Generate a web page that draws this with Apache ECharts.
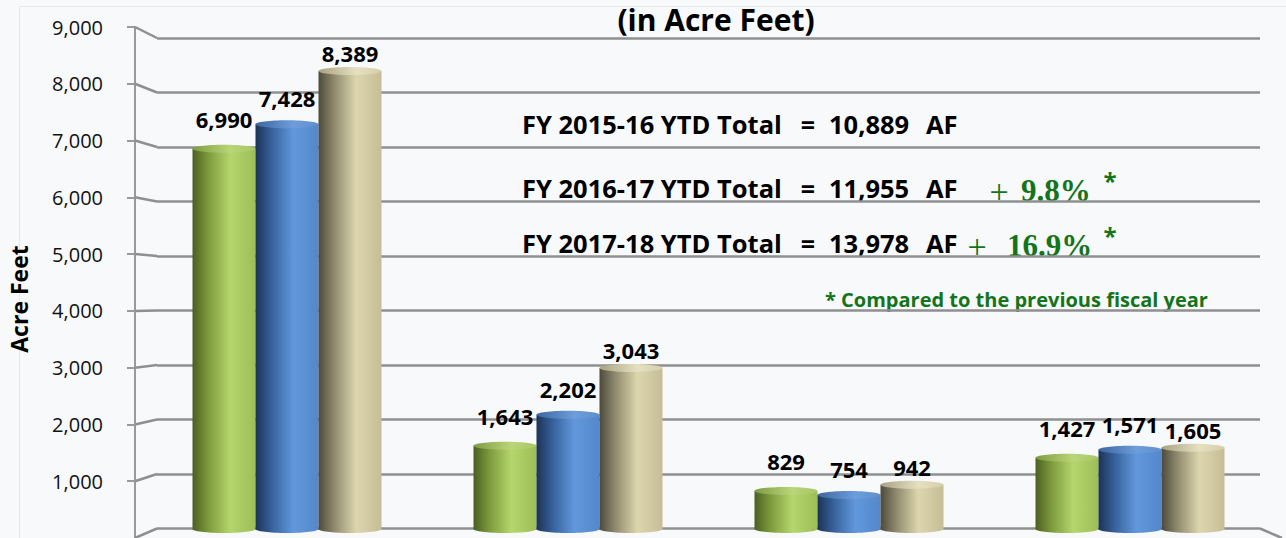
<!DOCTYPE html>
<html>
<head>
<meta charset="utf-8">
<script src="https://cdn.jsdelivr.net/npm/echarts@6/dist/echarts.min.js"></script>
<style>
  html, body { margin: 0; padding: 0; background: #f8f9fb; }
  #chart { width: 1286px; height: 538px; }
</style>
</head>
<body>
<div id="chart"></div>
<script>
// ---------- data ----------
const categories = ['Category 1', 'Category 2', 'Category 3', 'Category 4'];
const seriesNames = ['FY 2015-16', 'FY 2016-17', 'FY 2017-18'];
const fy1516 = [6990, 1643, 829, 1427];
const fy1617 = [7428, 2202, 754, 1571];
const fy1718 = [8389, 3043, 942, 1605];
const yTicks = [0, 1000, 2000, 3000, 4000, 5000, 6000, 7000, 8000, 9000];
const totalLabels = ['FY 2015-16 YTD Total', 'FY 2016-17 YTD Total', 'FY 2017-18 YTD Total'];
const totalValues = ['10,889', '11,955', '13,978'];
const pctChanges = [null, '9.8%', '16.9%'];
const titleText = '(in Acre Feet)';
const yAxisName = 'Acre Feet';
const footnote = '* Compared to the previous fiscal year';

// ---------- styles ----------
const FONT = "'Open Sans', 'Liberation Sans', sans-serif";
const SERIF = "'Liberation Serif', 'DejaVu Serif', serif";
const GREEN_TXT = '#13741a';
const BAR_RATIO = 63 / 281;
const RY = 4;
const palettes = [
  { body: [[0, '#4b5f22'], [0.25, '#7d9a3c'], [0.6, '#b5d66c'], [1, '#9dbd57']],
    top:  [[0, '#7f9b42'], [0.6, '#b9d678'], [1, '#a9c765']] },
  { body: [[0, '#1c3356'], [0.25, '#36609a'], [0.6, '#6198dc'], [1, '#5487cb']],
    top:  [[0, '#3c66a0'], [0.6, '#6d9ddb'], [1, '#5f8fcd']] },
  { body: [[0, '#4d4a3b'], [0.25, '#8f8a6e'], [0.6, '#ddd6ad'], [1, '#c5bd97']],
    top:  [[0, '#a8a283'], [0.6, '#e6e0c2'], [1, '#d6cfab']] }
];
const labelOffsets = [26, 22, 14];

const fmt = v => v.toLocaleString('en-US');
const chart = echarts.init(document.getElementById('chart'), null, { renderer: 'svg' });

function cylinder(sIdx) {
  return function (params, api) {
    const ci = api.value(0), v = api.value(1);
    const top = api.coord([ci, v]);
    const base = api.coord([ci, 0]);
    const band = api.size([1, 0])[0];
    const w = band * BAR_RATIO;
    const cx = top[0] + (sIdx - 1) * w;
    const x0 = cx - w / 2;
    const pal = palettes[sIdx];
    const bodyGrad = new echarts.graphic.LinearGradient(0, 0, 1, 0, pal.body.map(s => ({ offset: s[0], color: s[1] })));
    const topGrad = new echarts.graphic.LinearGradient(0, 0, 1, 0, pal.top.map(s => ({ offset: s[0], color: s[1] })));
    return {
      type: 'group',
      children: [
        { type: 'ellipse', shape: { cx: cx, cy: base[1] - RY, rx: w / 2, ry: RY }, style: { fill: bodyGrad } },
        { type: 'rect', shape: { x: x0, y: top[1] + RY, width: w, height: (base[1] - RY) - (top[1] + RY) }, style: { fill: bodyGrad } },
        { type: 'ellipse', shape: { cx: cx, cy: top[1] + RY, rx: w / 2, ry: RY }, style: { fill: topGrad } },
        { type: 'text', style: { text: fmt(v), x: cx, y: top[1] - labelOffsets[sIdx], align: 'center', verticalAlign: 'middle',
            font: "bold 22px " + FONT, fill: '#000' } }
      ]
    };
  };
}

function connectors(params, api) {
  const v = api.value(1);
  const back = api.coord([0, v]);
  const backRight = api.coord([1, v]);
  const frontY = chart.convertToPixel({ yAxisIndex: 0 }, v);
  const frontX = chart.convertToPixel({ xAxisIndex: 0 }, 0);
  const st = { stroke: '#8f8f8f', lineWidth: 2.5 };
  const children = [
    { type: 'line', shape: { x1: frontX, y1: frontY, x2: back[0], y2: back[1] }, style: st }
  ];
  if (v === 0) {
    children.push({ type: 'line', shape: { x1: backRight[0], y1: backRight[1], x2: backRight[0] + (back[0] - frontX), y2: frontY }, style: st });
  }
  return { type: 'group', children: children };
}

const barData = [fy1516, fy1617, fy1718].map(arr => arr.map((v, i) => [i, v]));

const graphics = [
  { type: 'rect', left: 17, top: 4, shape: { width: 1300, height: 560 }, style: { fill: 'none', stroke: '#e6e8ec', lineWidth: 1 }, z: -10 },
  { type: 'text', x: 716, y: 19, style: { text: titleText, font: "bold 30px " + FONT, fill: '#000', align: 'center', verticalAlign: 'middle' } },
  { type: 'text', x: 19, y: 299, rotation: Math.PI / 2, style: { text: yAxisName, font: "bold 23px " + FONT, fill: '#000', align: 'center', verticalAlign: 'middle' } },
  { type: 'text', x: 825, y: 299, style: { text: footnote, font: "bold 20px " + FONT, fill: GREEN_TXT, align: 'left', verticalAlign: 'middle' } }
];
const lineY = [124, 188, 243];
totalLabels.forEach((t, i) => {
  const y = lineY[i];
  graphics.push({ type: 'text', x: 522, y: y, style: { text: t, font: "bold 25.5px " + FONT, fill: '#000', align: 'left', verticalAlign: 'middle' } });
  graphics.push({ type: 'text', x: 808, y: y, style: { text: '=', font: "bold 25px " + FONT, fill: '#000', align: 'center', verticalAlign: 'middle' } });
  graphics.push({ type: 'text', x: 829, y: y, style: { text: totalValues[i], font: "bold 25.5px " + FONT, fill: '#000', align: 'left', verticalAlign: 'middle' } });
  graphics.push({ type: 'text', x: 926, y: y, style: { text: 'AF', font: "bold 25.5px " + FONT, fill: '#000', align: 'left', verticalAlign: 'middle' } });
});
const pctPlusX = [null, 999, 977];
const pctX = [null, 1021, 1007];
pctChanges.forEach((p, i) => {
  if (!p) return;
  const y = lineY[i] + 2;
  graphics.push({ type: 'text', x: pctPlusX[i], y: y + 1, style: { text: '+', font: "34px " + SERIF, fill: GREEN_TXT, align: 'center', verticalAlign: 'middle' } });
  graphics.push({ type: 'text', x: pctX[i], y: y, style: { text: p, font: "bold 31px " + SERIF, fill: GREEN_TXT, align: 'left', verticalAlign: 'middle' } });
  graphics.push({ type: 'text', x: 1110, y: y - 10, style: { text: '*', font: "bold 24px " + FONT, fill: GREEN_TXT, align: 'center', verticalAlign: 'middle' } });
});

const option = {
  backgroundColor: '#f8f9fb',
  animation: false,
  grid: [
    { left: 135, width: 10, top: 27, bottom: 0 },             // front axis
    { left: 157, right: 26, top: 38, bottom: 9.5 },          // back wall gridlines
    { left: 146.5, right: 15.5, top: 33, bottom: 5 }         // cylinders
  ],
  xAxis: [
    { gridIndex: 0, type: 'value', min: 0, max: 1, show: false },
    { gridIndex: 1, type: 'value', min: 0, max: 1, show: false },
    { gridIndex: 2, type: 'category', data: categories, show: false }
  ],
  yAxis: [
    { gridIndex: 0, type: 'value', min: 0, max: 9000, interval: 1000,
      axisLine: { show: true, lineStyle: { color: '#9a9a9a', width: 2 } },
      axisTick: { show: true, length: 8, lineStyle: { color: '#9a9a9a', width: 2 } },
      axisLabel: { fontSize: 20, fontFamily: FONT, color: '#111', margin: 32, showMinLabel: false,
                   formatter: v => (v === 0 ? '' : fmt(v)) },
      splitLine: { show: false } },
    { gridIndex: 1, type: 'value', min: 0, max: 9000, interval: 1000,
      axisLine: { show: false }, axisTick: { show: false }, axisLabel: { show: false },
      splitLine: { show: true, lineStyle: { color: '#8f8f8f', width: 2.5 } } },
    { gridIndex: 2, type: 'value', min: 0, max: 9000, interval: 1000, show: false, splitLine: { show: false } }
  ],
  series: [
    { type: 'custom', name: 'grid connectors', xAxisIndex: 1, yAxisIndex: 1, clip: false, silent: true,
      data: yTicks.map(v => [0, v]), encode: { x: 0, y: 1 }, renderItem: connectors, z: 1 },
    ...seriesNames.map((n, s) => ({
      type: 'custom', name: n, xAxisIndex: 2, yAxisIndex: 2, clip: false,
      data: barData[s], encode: { x: 0, y: 1 }, renderItem: cylinder(s), z: 5
    }))
  ],
  graphic: graphics
};
chart.setOption(option);
</script>
</body>
</html>
